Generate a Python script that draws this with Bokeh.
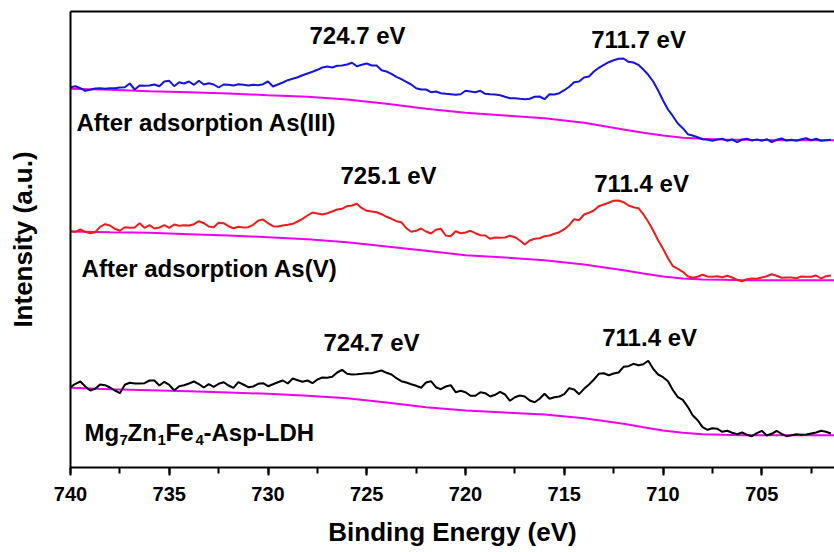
import numpy as np
from bokeh.plotting import figure
from bokeh.models import Range1d, LinearAxis, FixedTicker, SingleIntervalTicker
from bokeh.core.properties import value
from bokeh.embed import file_html
from bokeh.resources import INLINE

# Binding energy grid (eV), 0.25 eV steps
energy = [round(740 - 0.25 * i, 2) for i in range(155)]

# Spectra (a.u.)
as3_spectrum = [
    380.3, 381.3, 379.3, 376.7, 377.7, 379.0, 379.3, 378.7, 379.3, 379.3,
    380.0, 380.3, 384.0, 378.0, 382.0, 381.7, 382.0, 383.0, 381.3, 386.0,
    386.7, 381.3, 385.3, 384.0, 386.0, 382.7, 386.7, 383.0, 384.3, 383.0,
    380.0, 383.0, 382.7, 382.0, 383.3, 382.7, 382.0, 382.7, 382.3, 383.3,
    386.0, 381.0, 383.0, 385.0, 387.3, 388.7, 390.3, 392.3, 394.0, 395.7,
    397.7, 400.0, 401.0, 400.0, 401.7, 402.0, 403.0, 404.7, 401.3, 402.7,
    404.0, 402.0, 402.0, 397.3, 396.0, 393.7, 390.7, 388.3, 385.7, 383.0,
    379.3, 378.0, 378.0, 375.3, 376.0, 374.3, 373.7, 373.3,
    372.7, 373.3, 376.7, 376.0, 375.3, 376.7, 373.7, 373.3, 373.0, 372.3,
    370.7, 369.3, 369.3, 368.7, 368.3, 368.7, 370.7, 371.0, 368.3, 373.3,
    373.0, 374.3, 377.3, 380.7, 385.3, 386.0, 390.0, 391.0, 396.0, 399.7,
    402.7, 405.3, 407.3, 408.7, 409.0, 405.7, 405.0, 402.7, 398.0, 392.7,
    386.0, 377.0, 367.0, 358.0, 351.3, 344.0, 339.3, 333.3, 332.0, 330.3,
    328.3, 327.7, 326.7, 328.0, 328.7, 326.7, 328.0, 325.3, 328.0, 328.7,
    327.0, 328.0, 326.7, 328.3, 325.3, 327.7, 329.0, 327.0, 327.7, 326.7,
    328.3, 329.3, 327.3, 328.7, 326.7, 327.3, 327.7,
]

as5_spectrum = [
    236.0, 235.7, 238.0, 235.7, 234.3, 235.3, 240.7, 243.3, 242.0, 238.7,
    236.7, 240.3, 239.7, 240.0, 244.3, 239.7, 242.3, 239.0, 240.0, 242.3,
    239.7, 243.0, 241.7, 242.3, 242.0, 243.3, 246.3, 244.3, 241.0, 240.3,
    244.7, 244.3, 241.3, 239.3, 240.7, 240.0, 240.3, 242.7, 246.7, 248.0,
    244.3, 241.3, 241.0, 242.0, 242.7, 243.7, 246.0, 248.7, 252.0, 255.0,
    254.0, 253.0, 254.3, 256.0, 258.0, 258.7, 261.3, 262.0, 263.7, 259.3,
    256.7, 256.0, 255.3, 253.3, 250.7, 248.7, 246.3, 245.3, 239.3, 235.7,
    236.7, 239.0, 236.0, 234.0, 237.7, 238.7, 232.0, 231.3,
    236.3, 234.3, 235.0, 236.7, 234.3, 232.3, 232.0, 228.7, 230.0, 229.7,
    230.0, 231.7, 230.3, 227.0, 223.0, 227.0, 228.7, 229.3, 231.3, 232.0,
    233.7, 235.3, 238.3, 242.3, 248.3, 247.3, 253.0, 254.7, 257.0, 261.3,
    263.0, 264.7, 266.7, 267.0, 265.3, 262.0, 260.3, 259.3, 253.3, 245.7,
    237.0, 227.3, 218.7, 209.3, 201.3, 198.7, 195.7, 191.3, 189.7, 190.7,
    192.7, 191.0, 190.7, 191.3, 190.3, 191.7, 190.0, 187.7, 186.3, 188.3,
    189.0, 188.7, 190.0, 191.3, 193.3, 191.7, 189.7, 190.0, 190.0, 189.3,
    191.0, 190.7, 190.7, 192.0, 189.0, 191.3, 192.0,
]

ldh_spectrum = [
    80.3, 83.7, 86.0, 81.0, 77.0, 78.7, 83.0, 82.3, 80.0, 77.0,
    74.3, 82.7, 84.7, 84.0, 84.0, 84.3, 87.0, 87.0, 82.0, 85.7,
    82.7, 77.0, 81.3, 82.3, 84.0, 86.0, 83.3, 80.0, 83.3, 80.7,
    83.7, 85.3, 82.0, 79.7, 85.3, 83.0, 80.3, 81.0, 83.7, 84.3,
    81.3, 83.3, 85.3, 87.0, 84.0, 89.0, 87.3, 85.7, 87.0, 84.3,
    88.0, 90.0, 89.7, 90.7, 95.0, 97.7, 93.7, 93.0, 93.3, 93.7,
    94.3, 94.3, 95.7, 97.0, 94.7, 93.0, 89.3, 86.3, 85.0, 83.3,
    81.7, 79.7, 85.0, 86.3, 80.3, 78.3, 81.0, 82.3,
    75.3, 76.7, 75.3, 71.7, 71.7, 75.3, 74.3, 71.0, 72.7, 75.7,
    73.0, 66.7, 70.3, 72.0, 71.0, 67.0, 65.3, 68.7, 73.7, 68.7,
    70.3, 71.0, 73.3, 79.3, 78.0, 73.3, 78.7, 83.0, 88.0, 93.7,
    94.3, 92.3, 94.0, 95.0, 100.7, 101.3, 103.7, 102.3, 103.3, 106.7,
    98.7, 93.0, 90.3, 86.3, 77.3, 70.3, 67.7, 60.7, 52.3, 47.3,
    40.3, 37.7, 39.3, 38.7, 35.7, 36.7, 34.7, 33.3, 35.0, 32.7,
    31.3, 34.3, 36.7, 32.0, 33.7, 36.7, 33.7, 31.3, 32.3, 33.3,
    32.7, 33.0, 34.0, 35.0, 36.7, 35.7, 34.0,
]

# Shirley-type backgrounds
bg_energy = [740, 738, 736, 734, 732, 730, 728, 726, 724, 722, 720, 718,
             716, 714, 712, 711, 710, 709, 708, 707, 706, 704, 702, 701.3]
as3_background = [378.7, 377.7, 376.3, 375.3, 374.0, 372.3, 370.7, 368.0,
                  363.7, 358.7, 354.7, 352.0, 349.3, 344.7, 338.0, 334.7,
                  332.0, 329.7, 328.7, 328.0, 327.7, 327.3, 327.3, 327.3]
as5_background = [236.0, 235.3, 234.7, 233.3, 232.0, 230.3, 228.3, 225.3,
                  221.0, 216.7, 212.3, 210.0, 207.3, 203.0, 197.3, 194.0,
                  191.0, 189.0, 188.0, 187.7, 187.3, 187.3, 187.3, 187.3]
ldh_background = [79.7, 78.3, 77.3, 76.3, 75.0, 73.7, 71.7, 69.3,
                  65.0, 60.3, 57.0, 55.0, 53.0, 49.3, 43.7, 40.3,
                  37.0, 34.7, 33.3, 32.7, 32.3, 32.3, 32.3, 32.3]

# Annotations
peak_labels = ["724.7 eV", "711.7 eV", "725.1 eV", "711.4 eV", "724.7 eV", "711.4 eV"]
peak_label_x = [725.47, 711.24, 723.9, 711.09, 724.76, 710.68]
peak_label_y = [431.7, 428.3, 292.3, 284.3, 124.7, 129.7]

series_labels = ["After adsorption As(III)", "After adsorption As(V)"]
series_label_x = [739.70, 739.44]
series_label_y = [345.0, 199.3]

FONT = "Liberation Sans"

p = figure(frame_width=764, frame_height=456,
           x_range=Range1d(740, 701.32), y_range=Range1d(0, 456),
           output_backend="svg", toolbar_location=None,
           min_border_left=70, min_border_right=0,
           min_border_top=11, min_border_bottom=85)
p.outline_line_color = None
p.grid.visible = False
p.background_fill_color = "white"
p.border_fill_color = "white"

# backgrounds
for bg in (as3_background, as5_background, ldh_background):
    p.line(bg_energy, bg, line_color="#f000f0", line_width=2)

p.line(energy, as3_spectrum, line_color="#1414dc", line_width=2)
p.line(energy, as5_spectrum, line_color="#ec1c1c", line_width=2)
p.line(energy, ldh_spectrum, line_color="#000000", line_width=2)

p.text(x=peak_label_x, y=peak_label_y, text=peak_labels,
       text_font=value(FONT), text_font_style="bold", text_font_size="24px",
       text_align="center", text_baseline="alphabetic", text_color="black")
p.text(x=series_label_x, y=series_label_y, text=series_labels,
       text_font=value(FONT), text_font_style="bold", text_font_size="24px",
       text_align="left", text_baseline="alphabetic", text_color="black")

# Mg7Zn1Fe4-Asp-LDH with subscripts
main_parts = ["Mg", "Zn", "Fe", "-Asp-LDH"]
main_offsets = [0, 43, 81, 119]
sub_parts = ["7", "1", "4"]
sub_offsets = [35, 73, 111]
ldh_label_x = 739.29
ldh_label_y = 35.5
p.text(x=[ldh_label_x] * 4, y=[ldh_label_y] * 4, text=main_parts,
       x_offset=main_offsets,
       text_font=value(FONT), text_font_style="bold", text_font_size="24px",
       text_align="left", text_baseline="alphabetic", text_color="black")
p.text(x=[ldh_label_x] * 3, y=[ldh_label_y] * 3, text=sub_parts,
       x_offset=sub_offsets, y_offset=8,
       text_font=value(FONT), text_font_style="bold", text_font_size="15px",
       text_align="left", text_baseline="alphabetic", text_color="black")

# x axis
xa = p.xaxis[0]
xa.ticker = SingleIntervalTicker(interval=5, num_minor_ticks=2)
xa.axis_line_width = 2
xa.major_tick_line_width = 2
xa.minor_tick_line_width = 2
xa.major_tick_in = 0
xa.major_tick_out = 8
xa.minor_tick_in = 0
xa.minor_tick_out = 6
xa.major_label_text_font = FONT
xa.major_label_text_font_style = "bold"
xa.major_label_text_font_size = "20px"
xa.major_label_text_color = "black"
xa.major_label_standoff = 11
xa.axis_label = "Binding Energy (eV)"
xa.axis_label_text_font = FONT
xa.axis_label_text_font_style = "bold"
xa.axis_label_text_font_size = "26px"
xa.axis_label_text_color = "black"
xa.axis_label_standoff = 13

# y axis
ya = p.yaxis[0]
ya.ticker = FixedTicker(ticks=[])
ya.axis_line_width = 2
ya.major_tick_in = 0
ya.major_tick_out = 0
ya.minor_tick_in = 0
ya.minor_tick_out = 0
ya.axis_label = "Intensity (a.u.)"
ya.axis_label_text_font = FONT
ya.axis_label_text_font_style = "bold"
ya.axis_label_text_font_size = "26px"
ya.axis_label_text_color = "black"
ya.axis_label_standoff = 33

# top border line
top = LinearAxis(ticker=FixedTicker(ticks=[]), axis_line_width=2,
                 major_tick_in=0, major_tick_out=0,
                 minor_tick_in=0, minor_tick_out=0,
                 major_label_text_font_size="0px")
p.add_layout(top, "above")

open("out.html", "w").write(file_html(p, INLINE))
